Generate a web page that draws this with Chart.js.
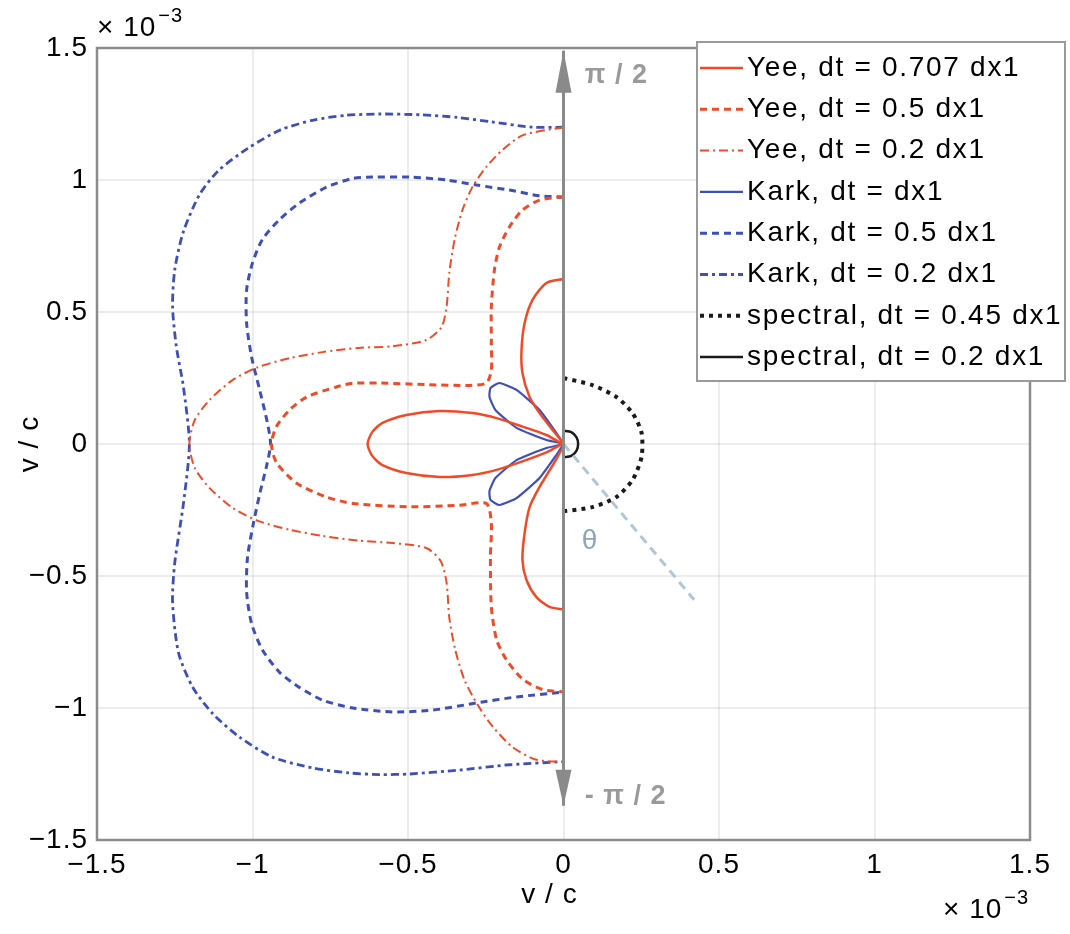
<!DOCTYPE html>
<html>
<head>
<meta charset="utf-8">
<script src="https://cdn.jsdelivr.net/npm/chart.js@4.4.1/dist/chart.umd.min.js"></script>
<style>
  html, body { margin: 0; padding: 0; background: #fff; }
</style>
</head>
<body>
<canvas id="chart" width="1070" height="934"></canvas>
<script>
// values are v/c error in units of 1e-3, [x, y]
const yee707 = [[0,0.625],[-0.055,0.61],[-0.1,0.545],[-0.125,0.458],[-0.135,0.356],[-0.132,0.269],[-0.109,0.178],[-0.077,0.117],[-0.035,0.053],[0,0],
  [-0.055,0.034],[-0.132,0.066],[-0.215,0.098],[-0.293,0.117],[-0.399,0.125],[-0.505,0.11],[-0.582,0.08],[-0.615,0.045],[-0.63,0],[-0.615,-0.045],[-0.582,-0.08],
  [-0.505,-0.11],[-0.399,-0.125],[-0.293,-0.117],[-0.215,-0.098],[-0.132,-0.066],[-0.055,-0.032],[0,0],
  [-0.025,-0.061],[-0.077,-0.163],[-0.109,-0.239],[-0.125,-0.337],[-0.132,-0.439],[-0.119,-0.515],[-0.087,-0.58],[-0.045,-0.617],[0,-0.627]];
const yee05 = [[0,0.936],[-0.077,0.924],[-0.132,0.886],[-0.174,0.822],[-0.206,0.746],[-0.222,0.66],[-0.232,0.52],[-0.232,0.383],[-0.232,0.28],[-0.248,0.231],
  [-0.302,0.222],[-0.441,0.225],[-0.592,0.231],[-0.678,0.23],[-0.73,0.216],[-0.826,0.178],[-0.881,0.129],[-0.923,0.066],[-0.939,0],
  [-0.923,-0.07],[-0.859,-0.148],[-0.762,-0.201],[-0.678,-0.225],[-0.495,-0.238],[-0.334,-0.232],[-0.248,-0.225],[-0.232,-0.3],[-0.235,-0.43],
  [-0.232,-0.617],[-0.215,-0.742],[-0.183,-0.818],[-0.132,-0.89],[-0.068,-0.93],[0,-0.939]];
const yee02 = [[0,1.2],[-0.13,1.17],[-0.196,1.114],[-0.248,1.05],[-0.293,0.973],[-0.325,0.886],[-0.35,0.775],[-0.367,0.65],[-0.376,0.52],[-0.392,0.443],
  [-0.441,0.394],[-0.55,0.37],[-0.66,0.364],[-0.775,0.348],[-0.881,0.325],[-0.985,0.29],[-1.064,0.242],[-1.138,0.167],[-1.186,0.09],[-1.203,0],
  [-1.186,-0.09],[-1.138,-0.167],[-1.064,-0.242],[-0.985,-0.29],[-0.881,-0.325],[-0.775,-0.348],[-0.66,-0.366],[-0.55,-0.375],[-0.441,-0.394],
  [-0.395,-0.443],[-0.376,-0.525],[-0.367,-0.66],[-0.348,-0.78],[-0.318,-0.895],[-0.275,-0.99],[-0.228,-1.07],[-0.164,-1.148],[-0.09,-1.195],[0,-1.205]];
const karkDx = [[0,0],[-0.023,0.042],[-0.077,0.129],[-0.151,0.205],[-0.206,0.231],[-0.235,0.212],[-0.238,0.178],[-0.219,0.129],[-0.151,0.061],[-0.055,0.015],[0,0],
  [-0.055,-0.015],[-0.151,-0.061],[-0.219,-0.129],[-0.238,-0.178],[-0.235,-0.212],[-0.206,-0.231],[-0.151,-0.205],[-0.077,-0.129],[-0.023,-0.042],[0,0]];
const kark05 = [[0,0.936],[-0.077,0.94],[-0.174,0.962],[-0.28,0.981],[-0.376,1.0],[-0.495,1.011],[-0.614,1.011],[-0.678,1.006],[-0.762,0.973],[-0.849,0.913],
  [-0.913,0.85],[-0.968,0.775],[-1.0,0.686],[-1.019,0.583],[-1.019,0.458],[-1.003,0.33],[-0.977,0.205],[-0.952,0.08],[-0.942,0],
  [-0.955,-0.085],[-0.975,-0.18],[-0.997,-0.3],[-1.016,-0.43],[-1.019,-0.56],[-1.003,-0.68],[-0.968,-0.78],[-0.913,-0.865],[-0.849,-0.922],
  [-0.775,-0.97],[-0.678,-1.0],[-0.55,-1.015],[-0.421,-1.008],[-0.28,-0.981],[-0.151,-0.958],[0,-0.94]];
const kark02 = [[0,1.2],[-0.1,1.2],[-0.23,1.22],[-0.34,1.237],[-0.46,1.247],[-0.59,1.25],[-0.7,1.245],[-0.8,1.228],[-0.91,1.19],[-1.015,1.12],
  [-1.11,1.035],[-1.17,0.945],[-1.222,0.805],[-1.25,0.66],[-1.257,0.52],[-1.245,0.37],[-1.222,0.215],[-1.203,0],
  [-1.222,-0.225],[-1.25,-0.45],[-1.257,-0.6],[-1.238,-0.79],[-1.193,-0.92],[-1.129,-1.02],[-1.042,-1.11],[-0.936,-1.186],[-0.807,-1.227],
  [-0.69,-1.246],[-0.59,-1.252],[-0.495,-1.25],[-0.334,-1.235],[-0.174,-1.215],[0,-1.203]];
const spec045 = [[0,-0.255],[0.093,-0.239],[0.17,-0.201],[0.222,-0.136],[0.251,-0.049],[0.251,0.042],[0.222,0.117],[0.17,0.178],[0.093,0.223],[0,0.25]];
const spec02 = [[0,-0.05],[0.025,-0.045],[0.042,-0.025],[0.047,0],[0.042,0.025],[0.025,0.045],[0,0.05]];

const seriesLabels = ['Yee, dt = 0.707 dx1', 'Yee, dt = 0.5 dx1', 'Yee, dt = 0.2 dx1', 'Kark, dt = dx1',
                      'Kark, dt = 0.5 dx1', 'Kark, dt = 0.2 dx1', 'spectral, dt = 0.45 dx1', 'spectral, dt = 0.2 dx1'];
const seriesData = [yee707, yee05, yee02, karkDx, kark05, kark02, spec045, spec02];

const tickValues = [-1.5, -1, -0.5, 0, 0.5, 1, 1.5];

// the theta sketch: vertical axis arrow and the ray
const axisArrow = [[0, 1.49], [0, -1.37]];
const thetaRay = [[0, 0], [0.42, -0.59]];
const sketchTexts = [['π / 2', 0.17, 1.395], ['- π / 2', 0.2, -1.335], ['θ', 0.085, -0.37]];

const RED = '#ef4b27';
const BLUE = '#3f4fb8';
const BLACK = '#1a1a1a';
const FONT = '"Liberation Sans", Arial, Helvetica, sans-serif';

const seriesStyles = [
    { color: RED, width: 2.5, dash: [] },
    { color: RED, width: 3, dash: [7, 5] },
    { color: RED, width: 2, dash: [9, 4, 2, 4] },
    { color: BLUE, width: 2.2, dash: [] },
    { color: BLUE, width: 3, dash: [7, 5] },
    { color: BLUE, width: 2.8, dash: [8, 4, 3, 4] },
    { color: BLACK, width: 4, dash: [4, 5] },
    { color: BLACK, width: 2.5, dash: [] }
];

function toPoints(arr) {
    return arr.map(p => ({ x: p[0], y: p[1] }));
}

function fmtTick(v) {
    if (v === 0) return '0';
    return (v < 0 ? '\u2212' : '') + Math.abs(v);
}

let datasets = [];
datasets.push({
    label: 'axis', data: toPoints(axisArrow), showLine: true, pointRadius: 0,
    borderColor: '#8a8a8a', borderWidth: 3, tension: 0
});
datasets.push({
    label: 'ray', data: toPoints(thetaRay), showLine: true, pointRadius: 0,
    borderColor: '#b3c6d6', borderWidth: 3, borderDash: [9, 6], tension: 0
});
seriesData.forEach((d, i) => {
    datasets.push({
        label: seriesLabels[i],
        data: toPoints(d),
        showLine: true,
        pointRadius: 0,
        borderColor: seriesStyles[i].color,
        borderWidth: seriesStyles[i].width,
        borderDash: seriesStyles[i].dash,
        tension: (i === 3) ? 0.15 : 0.25
    });
});

function drawExponent(ctx, x, y) {
    ctx.font = '28px ' + FONT;
    ctx.textAlign = 'left';
    ctx.textBaseline = 'middle';
    ctx.fillText('\u00d7 10', x, y);
    let w = ctx.measureText('\u00d7 10').width;
    ctx.font = '20px ' + FONT;
    ctx.fillText('\u22123', x + w + 2, y - 12);
}

const spacingPlugin = {
    id: 'spacing',
    beforeDraw(chart) {
        chart.ctx.letterSpacing = '1px';
    }
};

const decorPlugin = {
    id: 'decor',
    afterDraw(chart) {
        const ctx = chart.ctx;
        const area = chart.chartArea;
        const xs = chart.scales.x, ys = chart.scales.y;
        ctx.save();

        // axes box
        ctx.strokeStyle = '#8c8c8c';
        ctx.lineWidth = 2.5;
        ctx.strokeRect(area.left, area.top, area.right - area.left, area.bottom - area.top);

        // arrow heads on the vertical axis
        ctx.fillStyle = '#8a8a8a';
        const ax = xs.getPixelForValue(axisArrow[0][0]);
        const topY = ys.getPixelForValue(axisArrow[0][1]);
        const botY = ys.getPixelForValue(axisArrow[1][1]);
        ctx.beginPath();
        ctx.moveTo(ax, topY); ctx.lineTo(ax - 8, topY + 42); ctx.lineTo(ax + 8, topY + 42); ctx.closePath();
        ctx.fill();
        ctx.beginPath();
        ctx.moveTo(ax, botY); ctx.lineTo(ax - 8, botY - 36); ctx.lineTo(ax + 8, botY - 36); ctx.closePath();
        ctx.fill();

        // sketch texts
        ctx.textAlign = 'center';
        ctx.textBaseline = 'middle';
        sketchTexts.forEach((t, i) => {
            ctx.font = (i === 2 ? '28px ' : 'bold 27px ') + FONT;
            ctx.fillStyle = i === 2 ? '#8fa4b4' : '#9a9a9a';
            ctx.fillText(t[0], xs.getPixelForValue(t[1]), ys.getPixelForValue(t[2]));
        });

        // axis titles and exponents
        ctx.fillStyle = '#000';
        ctx.font = '28px ' + FONT;
        ctx.fillText('v / c', (area.left + area.right) / 2 - 14, 895);
        ctx.save();
        ctx.translate(30, (area.top + area.bottom) / 2);
        ctx.rotate(-Math.PI / 2);
        ctx.fillText('v / c', 0, 0);
        ctx.restore();
        drawExponent(ctx, area.left, 28);
        drawExponent(ctx, 943, 910);

        // legend
        const lx = 697, ly = 42, lw = 368, lh = 339;
        ctx.fillStyle = '#fff';
        ctx.fillRect(lx, ly, lw, lh);
        ctx.strokeStyle = '#9a9a9a';
        ctx.lineWidth = 2;
        ctx.strokeRect(lx, ly, lw, lh);
        ctx.font = '28px ' + FONT;
        ctx.letterSpacing = '1.7px';
        ctx.textAlign = 'left';
        ctx.textBaseline = 'middle';
        seriesLabels.forEach((lab, i) => {
            const yy = ly + 26 + i * 41.3;
            const st = seriesStyles[i];
            ctx.strokeStyle = st.color;
            ctx.lineWidth = st.width;
            ctx.setLineDash(st.dash);
            ctx.beginPath();
            ctx.moveTo(lx + 3, yy);
            ctx.lineTo(lx + 46, yy);
            ctx.stroke();
            ctx.setLineDash([]);
            ctx.fillStyle = '#000';
            ctx.fillText(lab, lx + 50, yy);
        });
        ctx.restore();
    }
};

const tickFont = { family: FONT, size: 28 };

new Chart(document.getElementById('chart'), {
    type: 'scatter',
    data: { datasets: datasets },
    options: {
        responsive: false,
        animation: false,
        devicePixelRatio: 1,
        layout: { padding: { top: 48, right: 40, left: 0, bottom: 0 } },
        plugins: { legend: { display: false }, tooltip: { enabled: false } },
        scales: {
            x: {
                type: 'linear', min: -1.5, max: 1.5,
                afterBuildTicks: s => { s.ticks = tickValues.map(v => ({ value: v })); },
                afterFit: s => { s.height = 94; },
                ticks: { callback: v => fmtTick(v), font: tickFont, color: '#000', padding: 8, maxRotation: 0 },
                grid: { color: 'rgba(0,0,0,0.07)', lineWidth: 2, drawTicks: false },
                border: { display: false }
            },
            y: {
                type: 'linear', min: -1.5, max: 1.5,
                afterBuildTicks: s => { s.ticks = tickValues.map(v => ({ value: v })); },
                afterFit: s => { s.width = 97; },
                ticks: { callback: v => fmtTick(v), font: tickFont, color: '#000', padding: 9 },
                grid: { color: 'rgba(0,0,0,0.07)', lineWidth: 2, drawTicks: false },
                border: { display: false }
            }
        }
    },
    plugins: [spacingPlugin, decorPlugin]
});
</script>
</body>
</html>
